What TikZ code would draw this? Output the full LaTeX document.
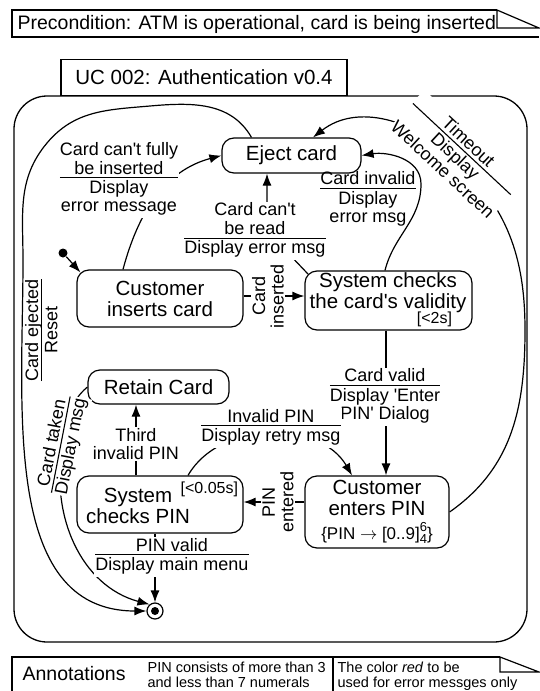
\documentclass[tikz,border=0pt]{standalone}
\usepackage{fontspec}
\setmainfont{Liberation Sans}
\usepackage{tikz}
\usetikzlibrary{arrows.meta,backgrounds,positioning}

\newcommand{\statefont}{\fontsize{20.5}{21}\selectfont}
\newcommand{\lblfont}{\fontsize{18}{18.5}\selectfont}
\newcommand{\timefont}{\fontsize{16}{16}\selectfont}
\newcommand{\notefont}{\fontsize{14.5}{15}\selectfont}
\newcommand{\headfont}{\fontsize{19.5}{20}\selectfont}
\newcommand{\apos}{\textquotesingle}
% guard above the line, action below it
\newcommand{\guard}[2]{\begin{tabular}{@{}c@{}}#1\\[-2.5pt]\hline\rule{0pt}{15pt}#2\end{tabular}}
\setlength{\arrayrulewidth}{1.1pt}

\tikzset{
  state/.style={draw, rounded corners=12pt, line width=1.2pt, font=\statefont, align=center},
  lbl/.style={font=\lblfont, align=center, inner sep=1pt},
  hide/.style={fill=white},
  conn/.style={line width=1.2pt, ->, >={Latex[length=12pt,width=9pt]}},
}

\begin{document}
\begin{tikzpicture}[x=1pt,y=1pt,line width=1.2pt]
\useasboundingbox (0,-691) rectangle (539,0);

% precondition note
\node[font=\headfont, anchor=base west, inner sep=0] (pre) at (17,-29) {Precondition: ATM is operational, card is being inserted};
\draw (497,-10) -- (12,-10) -- (12,-37) -- (539,-37);
\draw (497,-10) -- (497,-28) -- (539,-28) -- cycle;

% use case frame
\node[draw, minimum width=286pt, minimum height=36pt, font=\statefont] (title) at (204,-77.5) {UC 002: Authentication v0.4};
\draw[line width=1.3pt, rounded corners=33pt] (14,-96) rectangle (527,-642);

% states
\node[state, minimum width=139pt, minimum height=35pt] (eject) at (291.5,-155.5) {Eject card};
\node[state, minimum width=166pt, minimum height=57pt] (cust) at (160,-298.5) {Customer\\inserts card};
\node[state, minimum width=167pt, minimum height=59pt] (valid) at (388.5,-300.5) {};
\node[font=\statefont, align=center] (validtxt) at (388,-293) {System checks\\the card\apos{}s validity};
\node[font=\timefont, anchor=south east, inner sep=0] (validtime) at ([shift={(-20pt,3pt)}]valid.south east) {[<2s]};
\node[state, minimum width=141pt, minimum height=34pt] (retain) at (158.5,-387) {Retain Card};
\node[state, minimum width=166pt, minimum height=57pt] (syspin) at (160,-504.5) {};
\node[font=\statefont, align=center] (syspintxt) at (138,-506) {System\\checks PIN};
\node[font=\timefont, anchor=north east, inner sep=0] (syspintime) at ([shift={(-5pt,-6pt)}]syspin.north east) {[<0.05s]};
\node[state, minimum width=144pt, minimum height=72pt] (enterpin) at (377,-512) {Customer\\enters PIN\\[3pt]{\fontsize{17}{17}\selectfont\{PIN $\rightarrow$ [0..9]\raisebox{-4.5pt}{\fontsize{13}{11.5}\selectfont\shortstack{6\\4}}\}}};

\node[circle, fill, inner sep=0, minimum size=9pt] (init) at (63,-253) {};
\node[circle, draw, inner sep=0, minimum size=16pt] (final) at (155,-611) {};
\node[circle, fill, inner sep=0, minimum size=8pt] (finaldot) at (final) {};

% transition labels
\node[lbl, hide] (lfully) at (119,-180) {\guard{Card can\apos{}t fully\\be inserted}{Display\\error message}};
\node[lbl, hide] (lread) at (255,-231) {\guard{Card can\apos{}t\\be read}{Display error msg}};
\node[lbl] (linvalid) at (368,-200) {\guard{Card invalid}{Display\\error msg}};
\node[lbl, hide, rotate=-43] (ltimeout) at (454,-157.5) {\guard{Timeout}{Display\\Welcome screen}};
\node[lbl, hide, rotate=90] (linserted) at (268,-296) {Card\\inserted};
\node[lbl, hide] (lvalid) at (385,-397) {\guard{Card valid}{Display \apos{}Enter\\PIN\apos{} Dialog}};
\node[lbl, hide, rotate=90] (lentered) at (278,-502) {PIN\\entered};
\node[lbl, hide] (lretry) at (271,-428) {\guard{Invalid PIN}{Display retry msg}};
\node[lbl, hide] (lthird) at (136,-444) {Third\\invalid PIN};
\node[lbl, hide, rotate=79] (ltaken) at (63,-445) {\guard{Card taken}{Display msg}};
\node[lbl, hide] (lpinvalid) at (172,-557) {\guard{PIN valid}{Display main menu}};
\node[lbl, rotate=90] (lejected) at (44,-330) {\guard{Card ejected}{Reset}};

% bends
\coordinate (readup) at ([xshift=-24.5pt]eject.south);
\coordinate (validdown) at ([xshift=-2.5pt]valid.south);
\coordinate (thirdup) at ([xshift=-24pt]syspin.north);
\coordinate (invbend) at (421,-184);
\coordinate (ejtop) at (150,-106);
\coordinate (ejcorner) at (47,-143);
\coordinate (ejleft) at (23,-260);
\coordinate (tmright) at (525,-330);

\begin{scope}[on background layer]
  \draw[conn] (init) -- ([shift={(4pt,-3pt)}]cust.north west);
  \draw[conn] (cust.east |- linserted) -- (valid.west |- linserted);
  \draw[conn] ([xshift=-37pt]cust.north) to[out=75,in=195] (eject.west);
  \draw[conn] ([shift={(3.5pt,-3.5pt)}]valid.north west) -- (readup |- lread.center) -- (readup);
  \draw[conn] ([xshift=-3.5pt]valid.north) to[out=76,in=-90] (invbend) to[out=90,in=9] (eject.east);
  \draw[conn] (validdown) -- (validdown |- enterpin.north);
  \draw[conn] (enterpin.west |- lentered) -- (syspin.east |- lentered);
  \draw[conn] ([xshift=28pt]syspin.north) to[out=60,in=120] ([xshift=-25pt]enterpin.north);
  \draw[conn] (thirdup) -- (thirdup |- retain.south);
  \draw[conn] (syspin.south -| final) -- (final.north);
  \draw[conn] (retain.west) to[out=220,in=79] (ltaken.center) to[out=259,in=165] (final.130);
  \draw[conn] ([xshift=-40pt]eject.north) to[out=120,in=5] (ejtop) to[out=185,in=50] (ejcorner)
    to[out=230,in=90] (ejleft) to[out=-90,in=180] (final.west);
  \draw[conn] (enterpin.east) to[out=35,in=-90] (tmright) to[out=90,in=-43] (ltimeout.center)
    to[out=137,in=38] ([xshift=21.5pt]eject.north);
\end{scope}

% annotations
\draw (500,-657) -- (12,-657) -- (12,-692);
\draw (333,-657) -- (333,-692);
\draw (500,-657) -- (500,-672) -- (539,-672) -- cycle;
\node[font=\headfont, anchor=base west, inner sep=0] (annot) at (22,-680) {Annotations};
\node[font=\notefont, align=left, anchor=north west, inner sep=0] (annpin) at (147,-661) {PIN consists of more than 3\\and less than 7 numerals};
\node[font=\notefont, align=left, anchor=north west, inner sep=0] (anncolor) at (337,-661) {The color \textit{red} to be\\used for error messges only};
\end{tikzpicture}
\end{document}
